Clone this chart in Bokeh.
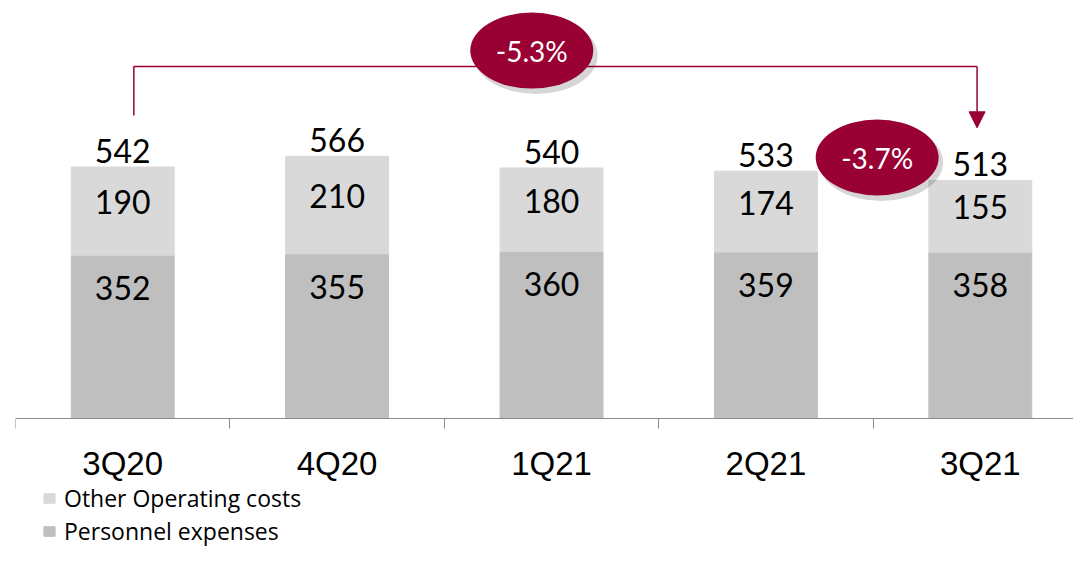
from bokeh.plotting import figure
from bokeh.models import (Range1d, FixedTicker, Legend, LegendItem, Arrow,
                          NormalHead, ColumnDataSource, LinearAxis)
from bokeh.core.properties import value
from bokeh.embed import file_html
from bokeh.resources import INLINE

# ---------------- data ----------------
quarters = ["3Q20", "4Q20", "1Q21", "2Q21", "3Q21"]
personnel = [352, 355, 360, 359, 358]
other = [190, 210, 180, 174, 155]
totals = [542, 566, 540, 533, 513]
changes = ["-5.3%", "-3.7%"]

# ---------------- style / layout ----------------
LIGHT = "#d9d9d9"
DARK = "#bfbfbf"
MAROON = "#990033"
AXIS_GRAY = "#8c8c8c"
W, H = 1073, 548
BORDER_L = 15
BASE_PX = 418         # baseline position from the top, pixels
PX_X = 214.4          # pixels per category
PX_Y = 0.464          # pixels per unit
frame_w = W - BORDER_L

x = list(range(len(quarters)))

p = figure(width=W, height=H, output_backend="svg", toolbar_location=None,
           x_range=Range1d(-0.5, -0.5 + frame_w / PX_X),
           y_range=Range1d(-(H - BASE_PX) / PX_Y, BASE_PX / PX_Y),
           x_axis_location=None, y_axis_location=None,
           min_border_left=BORDER_L, min_border_right=0,
           min_border_top=0, min_border_bottom=0)
p.outline_line_color = None
p.grid.visible = False
p.background_fill_color = "white"
p.border_fill_color = "white"

src = ColumnDataSource(dict(
    x=x, personnel=personnel, other=other, totals=totals,
    p_txt=[str(v) for v in personnel],
    o_txt=[str(v) for v in other],
    t_txt=[str(v) for v in totals],
    o_mid=[a + b / 2 for a, b in zip(personnel, other)],
))

rs = p.vbar_stack(["personnel", "other"], x="x", width=0.48,
                  color=[DARK, LIGHT], source=src)

font_num = value("Lato")
for ycol, txt, off in (("personnel", "p_txt", 33), ("o_mid", "o_txt", -9),
                       ("totals", "t_txt", -16)):
    p.text(x="x", y=ycol, text=txt, source=src, y_offset=off,
           text_align="center", text_baseline="middle", text_font=font_num,
           text_font_size="32px", text_color="black")

# x axis at value 0
ax = LinearAxis(fixed_location=0)
ax.ticker = FixedTicker(ticks=x, minor_ticks=[i - 0.5 for i in range(len(quarters) + 1)])
ax.major_label_overrides = {i: q for i, q in enumerate(quarters)}
ax.major_tick_line_color = None
ax.major_tick_out = 0
ax.major_tick_in = 0
ax.minor_tick_out = 10
ax.minor_tick_in = 0
ax.minor_tick_line_color = AXIS_GRAY
ax.axis_line_color = AXIS_GRAY
ax.major_label_text_font = "Liberation Sans"
ax.major_label_text_font_size = "33px"
ax.major_label_text_color = "black"
ax.major_label_standoff = 16
p.add_layout(ax, "below")

# bracket with arrow (-5.3% change 3Q20 -> 3Q21)
br_left_x, br_right_x = 0.052, 3.985
br_top_y, br_left_bottom, br_arrow_tip = 758.6, 653, 626.5
p.line(x=[br_left_x, br_left_x, br_right_x], y=[br_left_bottom, br_top_y, br_top_y],
       line_color=MAROON, line_width=1.5)
p.add_layout(Arrow(end=NormalHead(size=16, fill_color=MAROON, line_color=MAROON),
                   x_start=br_right_x, y_start=br_top_y,
                   x_end=br_right_x, y_end=br_arrow_tip,
                   line_color=MAROON, line_width=1.5))

# change badges
badge_x = [1.908, 3.519]
badge_y = [793, 562.5]
p.ellipse(x=[bx + 4 / PX_X for bx in badge_x], y=[by - 5 / PX_Y for by in badge_y],
          width=124, height=77, width_units="screen", height_units="screen",
          fill_color="#000000", fill_alpha=0.16, line_color=None)
p.ellipse(x=badge_x, y=badge_y, width=123, height=76,
          width_units="screen", height_units="screen",
          fill_color=MAROON, line_color=None)
p.text(x=badge_x, y=badge_y, text=changes, text_align="center",
       text_baseline="middle", text_font=value("Lato"),
       text_font_size="28px", text_color="white")

legend = Legend(items=[LegendItem(label="Other Operating costs", renderers=[rs[1]]),
                       LegendItem(label="Personnel expenses", renderers=[rs[0]])],
                location=(27, 1), orientation="vertical")
legend.glyph_width = 14
legend.glyph_height = 12
legend.label_standoff = 8
legend.spacing = 1
legend.padding = 0
legend.margin = 0
legend.border_line_color = None
legend.background_fill_alpha = 0
legend.label_text_font = "Open Sans"
legend.label_text_font_size = "23px"
legend.label_text_color = "black"
p.add_layout(legend)

open("out.html", "w").write(file_html(p, INLINE))
